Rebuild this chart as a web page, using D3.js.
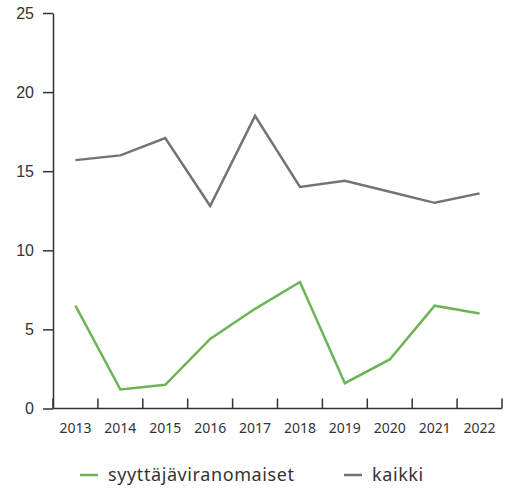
<!DOCTYPE html>
<html>
<head>
<meta charset="utf-8">
<script src="https://cdn.jsdelivr.net/npm/d3@7"></script>
<style>
  body { margin: 0; background: #fff; }
  svg { display: block; font-family: "Noto Sans", "Open Sans", sans-serif; }
</style>
</head>
<body>
<div id="chart"></div>
<script>
// data
const years = ["2013", "2014", "2015", "2016", "2017", "2018", "2019", "2020", "2021", "2022"];
const syyttaja = [6.5, 1.2, 1.5, 4.4, 6.3, 8.0, 1.6, 3.1, 6.5, 6.0];
const kaikki = [15.7, 16.0, 17.1, 12.8, 18.5, 14.0, 14.4, 13.7, 13.0, 13.6];
const yTicks = [0, 5, 10, 15, 20, 25];

const series = [
    { name: "syyttäjäviranomaiset", values: syyttaja, color: "#6cb557" },
    { name: "kaikki", values: kaikki, color: "#737373" }
];

const width = 507, height = 492;
const margin = { left: 53, right: 5, top: 13, bottom: 83 };

const svg = d3.select("#chart").append("svg")
    .attr("width", width)
    .attr("height", height);

const x = d3.scaleBand()
    .domain(years)
    .range([margin.left, width - margin.right]);

const y = d3.scaleLinear()
    .domain([0, 25])
    .range([height - margin.bottom - 0.5, margin.top]);

// y axis
const yAxis = svg.append("g")
    .attr("transform", `translate(${margin.left},0)`)
    .call(d3.axisLeft(y).tickValues(yTicks).tickSize(10).tickPadding(9).tickSizeOuter(0));
yAxis.select(".domain").attr("stroke", "#333").attr("stroke-width", 1.5);
yAxis.selectAll(".tick line").attr("stroke", "#333").attr("stroke-width", 1.5);
yAxis.selectAll(".tick text").attr("font-size", 16).attr("fill", "#333");

// x axis, ticks on band edges pointing up
const xAxisY = y(0);
const xg = svg.append("g").attr("transform", `translate(0,${xAxisY})`);
xg.append("line")
    .attr("x1", margin.left).attr("x2", width - margin.right)
    .attr("stroke", "#333").attr("stroke-width", 1.5);
const edges = years.map(d => x(d)).concat([x(years[years.length - 1]) + x.bandwidth()]);
xg.selectAll(".edge").data(edges).join("line")
    .attr("class", "edge")
    .attr("x1", d => d).attr("x2", d => d)
    .attr("y1", 0).attr("y2", -10)
    .attr("stroke", "#333").attr("stroke-width", 1.5);
xg.selectAll(".lbl").data(years).join("text")
    .attr("class", "lbl")
    .attr("x", d => x(d) + x.bandwidth() / 2)
    .attr("y", 24)
    .attr("text-anchor", "middle")
    .attr("font-size", 14)
    .attr("fill", "#333")
    .text(d => d);

// lines
const line = d3.line()
    .x((d, i) => x(years[i]) + x.bandwidth() / 2)
    .y(d => y(d));

svg.selectAll(".series").data(series).join("path")
    .attr("class", "series")
    .attr("d", d => line(d.values))
    .attr("fill", "none")
    .attr("stroke", d => d.color)
    .attr("stroke-width", 2.5);

// legend
const legendPos = [80, 344];
const lg = svg.selectAll(".legend").data(series).join("g")
    .attr("class", "legend")
    .attr("transform", (d, i) => `translate(${legendPos[i]},475)`);
lg.append("line")
    .attr("x1", 0).attr("x2", 18)
    .attr("stroke", d => d.color).attr("stroke-width", 2.5);
lg.append("text")
    .attr("x", 28).attr("y", 0)
    .attr("dy", "0.35em")
    .attr("font-size", 18)
    .attr("letter-spacing", 0.6)
    .attr("fill", "#333")
    .text(d => d.name);
</script>
</body>
</html>
